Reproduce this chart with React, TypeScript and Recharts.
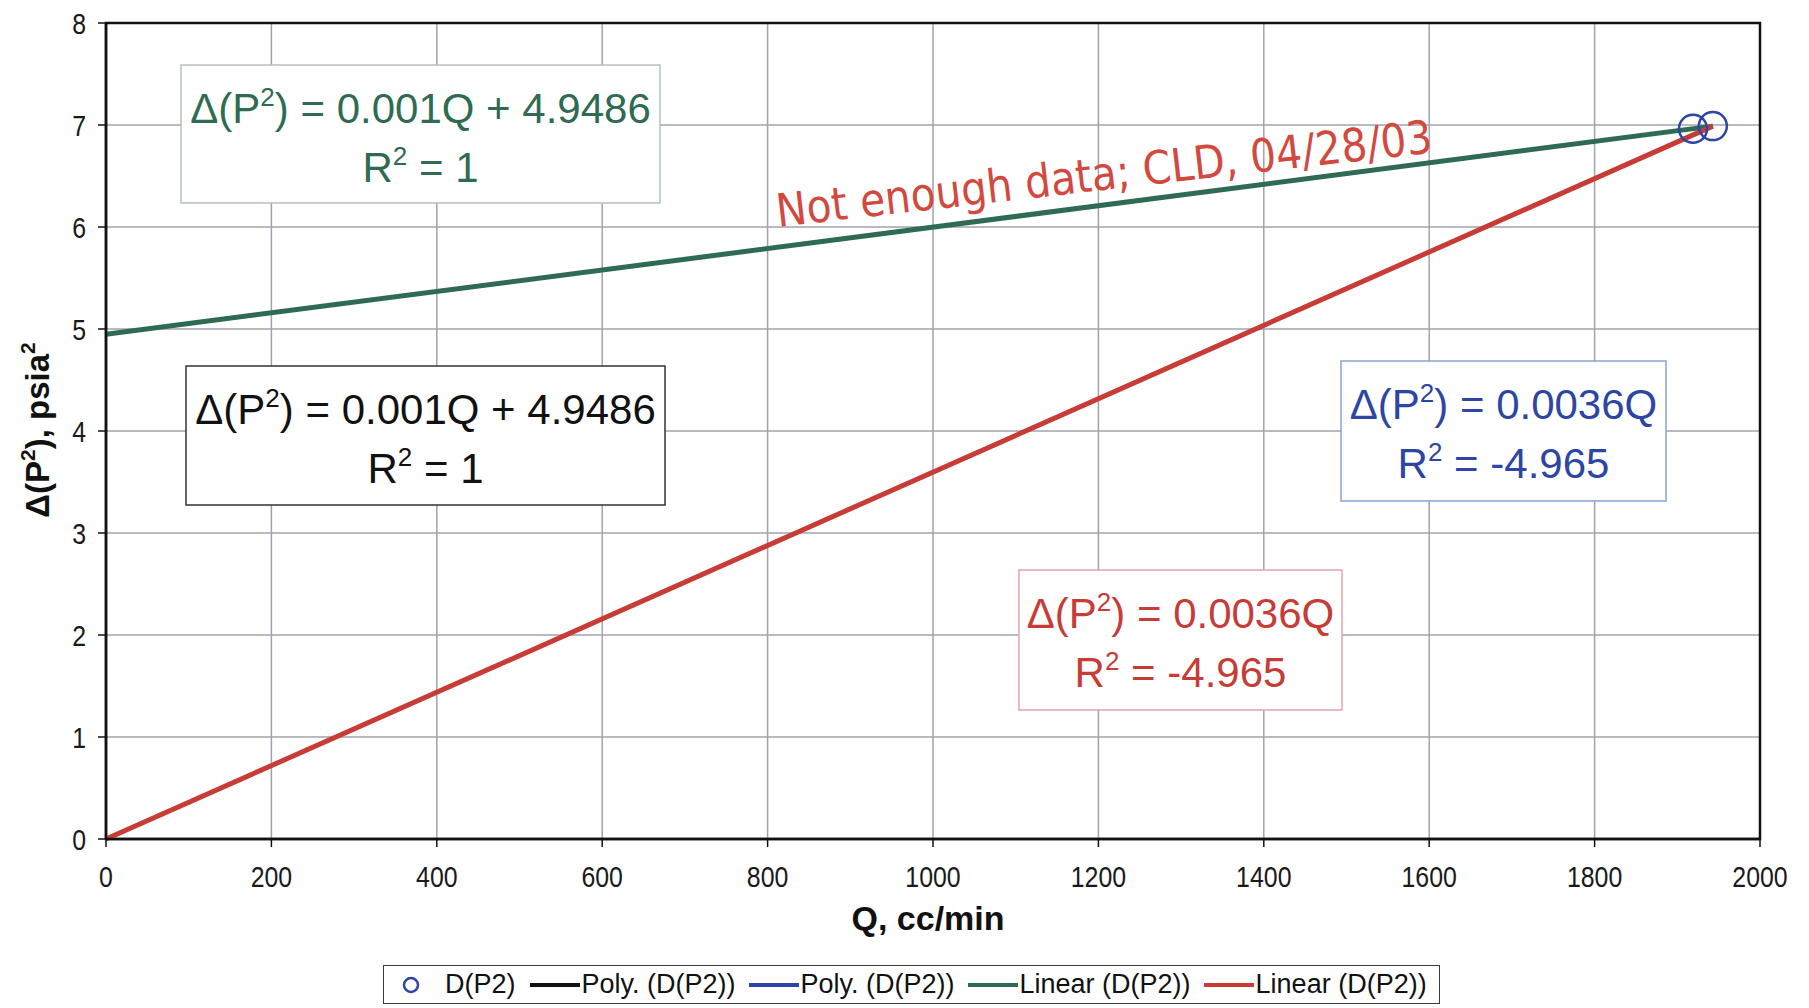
import React from 'react';
import { ComposedChart, XAxis, YAxis, CartesianGrid, Line, Scatter, ReferenceArea, Legend } from 'recharts';

const qTicks = [0, 200, 400, 600, 800, 1000, 1200, 1400, 1600, 1800, 2000];
const dpTicks = [0, 1, 2, 3, 4, 5, 6, 7, 8];

// measured D(P2) points
const measured = [
    { q: 1919, dp: 6.964 },
    { q: 1943, dp: 6.989 },
];

// linear trend with intercept, forecast back to Q = 0
const interceptFit = [
    { q: 0, dp: 4.9486 },
    { q: 1943, dp: 6.989 },
];

// linear trend forced through the origin
const originFit = [
    { q: 0, dp: 0 },
    { q: 1943, dp: 6.989 },
];

const legendNames = ['D(P2)', 'Poly. (D(P2))', 'Poly. (D(P2))', 'Linear (D(P2))', 'Linear (D(P2))'];
const fitEquations = ['0.001Q + 4.9486', '0.001Q + 4.9486', '0.0036Q', '0.0036Q'];
const fitR2 = ['1', '1', '-4.965', '-4.965'];
const note = 'Not enough data; CLD, 04/28/03';

const FONT = '"Liberation Sans", Arial, sans-serif';
const GREEN = '#2f6b52';
const RED = '#c73c36';
const BLUE = '#2d45a3';

// axis numbers are set in a narrow face: tall digits squeezed horizontally
const NarrowTick = ({ x, y, payload, anchor, dy }: any) => (
    <g transform={`translate(${x},${y}) scale(0.83,1)`}>
        <text x={0} y={0} dy={dy} textAnchor={anchor} fontSize={30} fill="#1a1a1a" fontFamily={FONT}>
            {payload.value}
        </text>
    </g>
);

type BoxProps = { x: number; y: number; w: number; h: number; color: string; border: string; eq: string; r2: string };

const EqBox = ({ x, y, w, h, color, border, eq, r2 }: BoxProps) => {
    const cx = x + w / 2;
    return (
        <g>
            <rect x={x} y={y} width={w} height={h} fill="#fff" stroke={border} strokeWidth={1.5} />
            <text x={cx} y={y + 58} textAnchor="middle" fontSize={42} fill={color} fontFamily={FONT}>
                Δ(P<tspan fontSize={26} dy={-17}>2</tspan>
                <tspan dy={17}>) = {eq}</tspan>
            </text>
            <text x={cx} y={y + 117} textAnchor="middle" fontSize={42} fill={color} fontFamily={FONT}>
                R<tspan fontSize={26} dy={-17}>2</tspan>
                <tspan dy={17}> = {r2}</tspan>
            </text>
        </g>
    );
};

const swatches = ['#111', BLUE, GREEN, RED];

const LegendBox = () => (
    <div
        style={{
            boxSizing: 'border-box',
            width: 1057,
            height: 39,
            border: '1.5px solid #3a3a3a',
            background: '#fff',
            display: 'flex',
            alignItems: 'center',
            paddingLeft: 18,
            fontFamily: FONT,
            fontSize: 27,
            color: '#111',
            whiteSpace: 'nowrap',
            overflow: 'hidden',
        }}
    >
        <svg width={18} height={18} style={{ marginRight: 25, flexShrink: 0 }}>
            <circle cx={9} cy={9} r={7} fill="none" stroke={BLUE} strokeWidth={2.5} />
        </svg>
        <span style={{ marginRight: 14, flexShrink: 0 }}>{legendNames[0]}</span>
        {legendNames.slice(1).map((name, i) => (
            <span key={i} style={{ display: 'flex', alignItems: 'center', marginRight: i < 3 ? 13 : 0, flexShrink: 0 }}>
                <span style={{ display: 'inline-block', width: 50, height: 4, background: swatches[i], marginRight: 2 }} />
                <span>{name}</span>
            </span>
        ))}
    </div>
);

const App = () => {
    return (
        <div style={{ position: 'absolute', left: 0, top: 0, width: 1809, height: 1008, background: '#fff' }}>
            <ComposedChart width={1809} height={1008} margin={{ top: 23, right: 49, left: 0, bottom: 109 }}>
                <CartesianGrid stroke="#a2a2ac" strokeWidth={1.5} />
                <XAxis
                    type="number"
                    dataKey="q"
                    domain={[0, 2000]}
                    ticks={qTicks}
                    height={60}
                    tickSize={8}
                    tickMargin={19}
                    axisLine={{ stroke: '#111', strokeWidth: 2.5 }}
                    tickLine={{ stroke: '#111', strokeWidth: 1.5 }}
                    tick={<NarrowTick anchor="middle" dy="0.71em" />}
                />
                <YAxis
                    type="number"
                    dataKey="dp"
                    domain={[0, 8]}
                    ticks={dpTicks}
                    width={106}
                    tickSize={8}
                    tickMargin={12}
                    axisLine={{ stroke: '#111', strokeWidth: 2.5 }}
                    tickLine={{ stroke: '#111', strokeWidth: 1.5 }}
                    tick={<NarrowTick anchor="end" dy="0.355em" />}
                />
                <ReferenceArea x1={0} x2={2000} y1={0} y2={8} fill="none" stroke="#111" strokeWidth={2.5} ifOverflow="visible" />

                <Scatter
                    name={legendNames[0]}
                    data={measured}
                    dataKey="dp"
                    isAnimationActive={false}
                    shape={(p: any) => <circle cx={p.cx} cy={p.cy} r={14} fill="none" stroke={BLUE} strokeWidth={2.5} />}
                />
                <Line data={interceptFit} dataKey="dp" type="linear" stroke={GREEN} strokeWidth={5} dot={false} activeDot={false} isAnimationActive={false} />
                <Line data={originFit} dataKey="dp" type="linear" stroke={RED} strokeWidth={5} dot={false} activeDot={false} isAnimationActive={false} />

                <EqBox x={181} y={65} w={479} h={138} color={GREEN} border="#b4c2b6" eq={fitEquations[0]} r2={fitR2[0]} />
                <EqBox x={186} y={366} w={479} h={139} color="#111" border="#333" eq={fitEquations[1]} r2={fitR2[1]} />
                <EqBox x={1341} y={361} w={325} h={140} color={BLUE} border="#8aa2d4" eq={fitEquations[2]} r2={fitR2[2]} />
                <EqBox x={1019} y={570} w={323} h={140} color={RED} border="#e2a4ac" eq={fitEquations[3]} r2={fitR2[3]} />

                <text
                    x={778}
                    y={227}
                    transform="rotate(-6.5, 778, 227)"
                    fontSize={46}
                    fill="#d24a3f"
                    fontFamily='"DejaVu Sans", sans-serif'
                    textLength={660}
                    lengthAdjust="spacingAndGlyphs"
                >
                    {note}
                </text>

                <text x={928} y={930} textAnchor="middle" fontSize={34} fontWeight="bold" fill="#111" fontFamily={FONT}>
                    Q, cc/min
                </text>
                <text transform="translate(49,430) rotate(-90)" textAnchor="middle" fontSize={33} fontWeight="bold" fill="#111" fontFamily={FONT}>
                    Δ(P<tspan fontSize={21} dy={-14}>2</tspan>
                    <tspan dy={14}>), psia</tspan>
                    <tspan fontSize={21} dy={-14}>2</tspan>
                </text>

                <Legend
                    verticalAlign="middle"
                    layout="horizontal"
                    content={() => <LegendBox />}
                    wrapperStyle={{ top: 965, left: 383, width: 1057, height: 39 }}
                />
            </ComposedChart>
        </div>
    );
};

export default App;
